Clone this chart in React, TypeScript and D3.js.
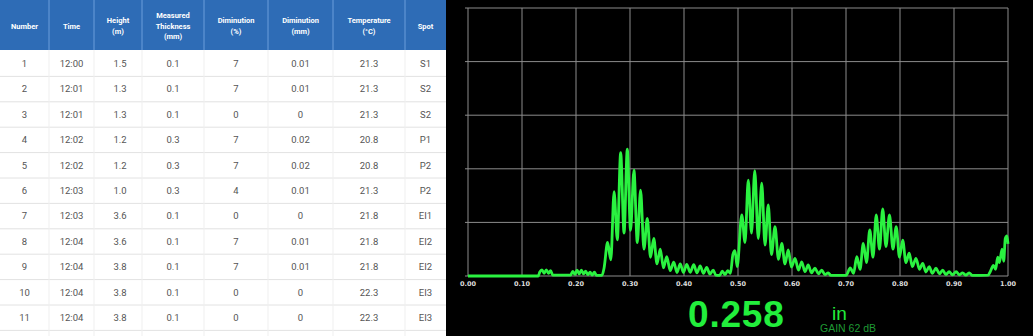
import React from "react";
import * as d3 from "d3";

// ---------- table data ----------
const headers = [
  ["Number"],
  ["Time"],
  ["Height", "(m)"],
  ["Measured", "Thickness", "(mm)"],
  ["Diminution", "(%)"],
  ["Diminution", "(mm)"],
  ["Temperature", "(°C)"],
  ["Spot"],
];
const rowNumbers = ["1", "2", "3", "4", "5", "6", "7", "8", "9", "10", "11"];
const times = ["12:00", "12:01", "12:01", "12:02", "12:02", "12:03", "12:03", "12:04", "12:04", "12:04", "12:04"];
const heights = ["1.5", "1.3", "1.3", "1.2", "1.2", "1.0", "3.6", "3.6", "3.8", "3.8", "3.8"];
const thickness = ["0.1", "0.1", "0.1", "0.3", "0.3", "0.3", "0.1", "0.1", "0.1", "0.1", "0.1"];
const diminutionPct = ["7", "7", "0", "7", "7", "4", "0", "7", "7", "0", "0"];
const diminutionMm = ["0.01", "0.01", "0", "0.02", "0.02", "0.01", "0", "0.01", "0.01", "0", "0"];
const temperatures = ["21.3", "21.3", "21.3", "20.8", "20.8", "21.3", "21.8", "21.8", "21.8", "22.3", "22.3"];
const spots = ["S1", "S2", "S2", "P1", "P2", "P2", "EI1", "EI2", "EI2", "EI3", "EI3"];

// ---------- A-scan data ----------
const xTicks = [0, 0.1, 0.2, 0.3, 0.4, 0.5, 0.6, 0.7, 0.8, 0.9, 1.0];
const yTicks = [0, 20, 40, 60, 80, 100];

const noise: [number, number][] = [
  [0, 0], [0.13, 0], [0.133, 1.5], [0.137, 2.3], [0.141, 1], [0.145, 2.3], [0.149, 1], [0.153, 2],
  [0.157, 0.3], [0.19, 0.3], [0.194, 1.7], [0.198, 0.6], [0.202, 2.2], [0.206, 0.8], [0.21, 2.2],
  [0.214, 0.8], [0.218, 1.8], [0.222, 0.5], [0.226, 1.4], [0.23, 0.3], [0.234, 1.4], [0.238, 0.2],
  [0.248, 0.2],
];
const echo1: [number, number][] = [
  [0.252, 3], [0.2585, 12.5], [0.2645, 6], [0.2705, 31.5], [0.2765, 13.5], [0.2827, 46],
  [0.289, 16], [0.295, 47.3], [0.301, 17], [0.3073, 39.5], [0.3135, 12.5], [0.3196, 32],
  [0.3258, 10], [0.332, 21.5], [0.338, 7], [0.344, 14], [0.35, 4.5], [0.356, 10], [0.362, 3],
  [0.368, 7.2], [0.3745, 2], [0.381, 5.2], [0.387, 1.3], [0.393, 4.5], [0.399, 1.3],
  [0.405, 4.3], [0.4115, 1.4], [0.418, 4.2], [0.424, 1.2], [0.43, 3.8], [0.436, 1],
  [0.442, 3.2], [0.448, 0.7], [0.454, 2.2], [0.459, 0.3],
];
const echo2: [number, number][] = [
  [0.466, 0.2], [0.471, 1.8], [0.476, 0.5], [0.481, 2], [0.486, 1], [0.4905, 8], [0.4944, 9.5],
  [0.4985, 3.5], [0.507, 22.8], [0.513, 12.5], [0.519, 35.8], [0.525, 16], [0.531, 39.3],
  [0.5375, 14], [0.544, 34.6], [0.55, 11.5], [0.556, 26.5], [0.562, 8], [0.5685, 18.4],
  [0.575, 6.2], [0.581, 12.2], [0.587, 4.5], [0.593, 9.7], [0.599, 3.3], [0.6056, 6.6],
  [0.612, 2.2], [0.618, 5.3], [0.624, 1.6], [0.63, 4.1], [0.636, 1.2], [0.6426, 2.9],
  [0.649, 0.8], [0.655, 2.2], [0.661, 0.5], [0.667, 1.2], [0.672, 0.2],
];
const echo3: [number, number][] = [
  [0.7, 0.2], [0.708, 3], [0.714, 1], [0.72, 7.2], [0.726, 2.5], [0.732, 12.2], [0.738, 5],
  [0.744, 17.2], [0.75, 7], [0.756, 22.8], [0.762, 10], [0.768, 25], [0.774, 11],
  [0.7805, 22.8], [0.787, 10], [0.793, 18.4], [0.799, 7], [0.805, 13.4], [0.811, 5],
  [0.817, 8.5], [0.823, 3.5], [0.8296, 6.6], [0.836, 2.5], [0.842, 4.7], [0.848, 1.5],
  [0.854, 3.5], [0.86, 1], [0.8667, 2.9], [0.873, 0.8], [0.879, 2.2], [0.885, 0.5],
  [0.891, 1.6], [0.897, 0.4], [0.904, 1.6], [0.91, 0.4], [0.916, 1.2], [0.922, 0.3],
  [0.928, 1.2], [0.934, 0.2],
];
const echo4: [number, number][] = [
  [0.963, 0.3], [0.968, 2], [0.973, 4], [0.977, 2.5], [0.981, 7], [0.984, 5], [0.989, 10],
  [0.992, 5.5], [0.995, 14], [0.998, 15], [1.0, 12],
];

const readingValue = "0.258";
const readingUnit = "in";
const gainLabel = "GAIN 62 dB";

export default function App() {
  // table layout
  const colEdges = [0, 49, 94, 142, 204, 268, 333, 405, 446];
  const columns = [rowNumbers, times, heights, thickness, diminutionPct, diminutionMm, temperatures, spots];
  const headerH = 50;
  const rowScale = d3
    .scaleBand<number>()
    .domain(d3.range(rowNumbers.length))
    .range([headerH + 1, headerH + 1 + 25.4 * rowNumbers.length]);

  // chart layout
  const x = d3.scaleLinear().domain([0, 1]).range([468, 1008]);
  const y = d3.scaleLinear().domain([0, 100]).range([276, 8]);
  const wave = [...noise, ...echo1, ...echo2, ...echo3, ...echo4];
  const line = d3
    .line<[number, number]>()
    .x((d) => x(d[0]))
    .y((d) => y(d[1]))
    .curve(d3.curveMonotoneX);

  const green = "#2af240";

  return (
    <>
      <style>{`body{margin:0;padding:0;overflow:hidden}`}</style>
      <svg width={1033} height={336} style={{ display: "block" }}>
        <rect x={0} y={0} width={1033} height={336} fill="#ffffff" />
        {/* table header */}
        <rect x={0} y={0} width={446} height={headerH} fill="#2e6cb6" />
        {colEdges.slice(1, -1).map((cx, i) => (
          <line key={"hd" + i} x1={cx} x2={cx} y1={0} y2={headerH} stroke="#6b9ddb" strokeWidth={1} />
        ))}
        {headers.map((lines, i) => {
          const cx = (colEdges[i] + colEdges[i + 1]) / 2;
          const lh = 10.7;
          const y0 = 26 - ((lines.length - 1) * lh) / 2;
          return (
            <text
              key={"h" + i}
              x={cx}
              textAnchor="middle"
              fill="#ffffff"
              fontFamily="Roboto, Arial, sans-serif"
              fontWeight="bold"
              fontSize={7.5}
            >
              {lines.map((t, j) => (
                <tspan key={j} x={cx} y={y0 + j * lh} dy="0.35em">
                  {t}
                </tspan>
              ))}
            </text>
          );
        })}
        {/* table body */}
        {rowNumbers.map((_, r) => (
          <line
            key={"rl" + r}
            x1={0}
            x2={446}
            y1={(rowScale(r) as number) + rowScale.bandwidth()}
            y2={(rowScale(r) as number) + rowScale.bandwidth()}
            stroke="#e2e2e2"
            strokeWidth={1}
          />
        ))}
        {colEdges.slice(1, -1).map((cx, i) => (
          <line key={"bd" + i} x1={cx} x2={cx} y1={headerH} y2={336} stroke="#efefef" strokeWidth={1} />
        ))}
        {columns.map((col, c) =>
          col.map((v, r) => (
            <text
              key={"c" + c + "-" + r}
              x={(colEdges[c] + colEdges[c + 1]) / 2 + (c === 2 ? 2 : 0)}
              y={(rowScale(r) as number) + rowScale.bandwidth() / 2}
              dy="0.35em"
              textAnchor="middle"
              fill="#555555"
              fontFamily="Roboto, Arial, sans-serif"
              fontSize={9.5}
            >
              {v}
            </text>
          ))
        )}

        {/* scope panel */}
        <rect x={446} y={0} width={587} height={336} fill="#000000" />
        {yTicks.map((t) => (
          <line key={"gy" + t} x1={465} x2={x(1)} y1={y(t)} y2={y(t)} stroke="#8c8c8c" strokeWidth={1} />
        ))}
        {xTicks.map((t) => (
          <line key={"gx" + t} x1={x(t)} x2={x(t)} y1={y(100)} y2={y(0)} stroke="#8c8c8c" strokeWidth={1} />
        ))}
        {xTicks.map((t) => (
          <text
            key={"xl" + t}
            x={x(t)}
            y={286}
            textAnchor="middle"
            fill="#dddddd"
            fontFamily="'DejaVu Sans', Arial, sans-serif"
            fontWeight="bold"
            fontSize={6.5}
          >
            {d3.format(".2f")(t)}
          </text>
        ))}
        <path d={line(wave) || ""} fill="none" stroke={green} strokeWidth={2.8} strokeLinejoin="round" />

        <text
          x={688}
          y={327}
          fill="#22ee3c"
          fontFamily="'Liberation Sans', Arial, sans-serif"
          fontWeight="bold"
          fontSize={37}
          letterSpacing={0.8}
        >
          {readingValue}
        </text>
        <text x={832} y={320} fill="#22ee3c" fontFamily="'Liberation Sans', Arial, sans-serif" fontSize={19}>
          {readingUnit}
        </text>
        <text x={820} y={332} fill="#1f9a34" fontFamily="'Liberation Sans', Arial, sans-serif" fontSize={10.5}>
          {gainLabel}
        </text>
      </svg>
    </>
  );
}
